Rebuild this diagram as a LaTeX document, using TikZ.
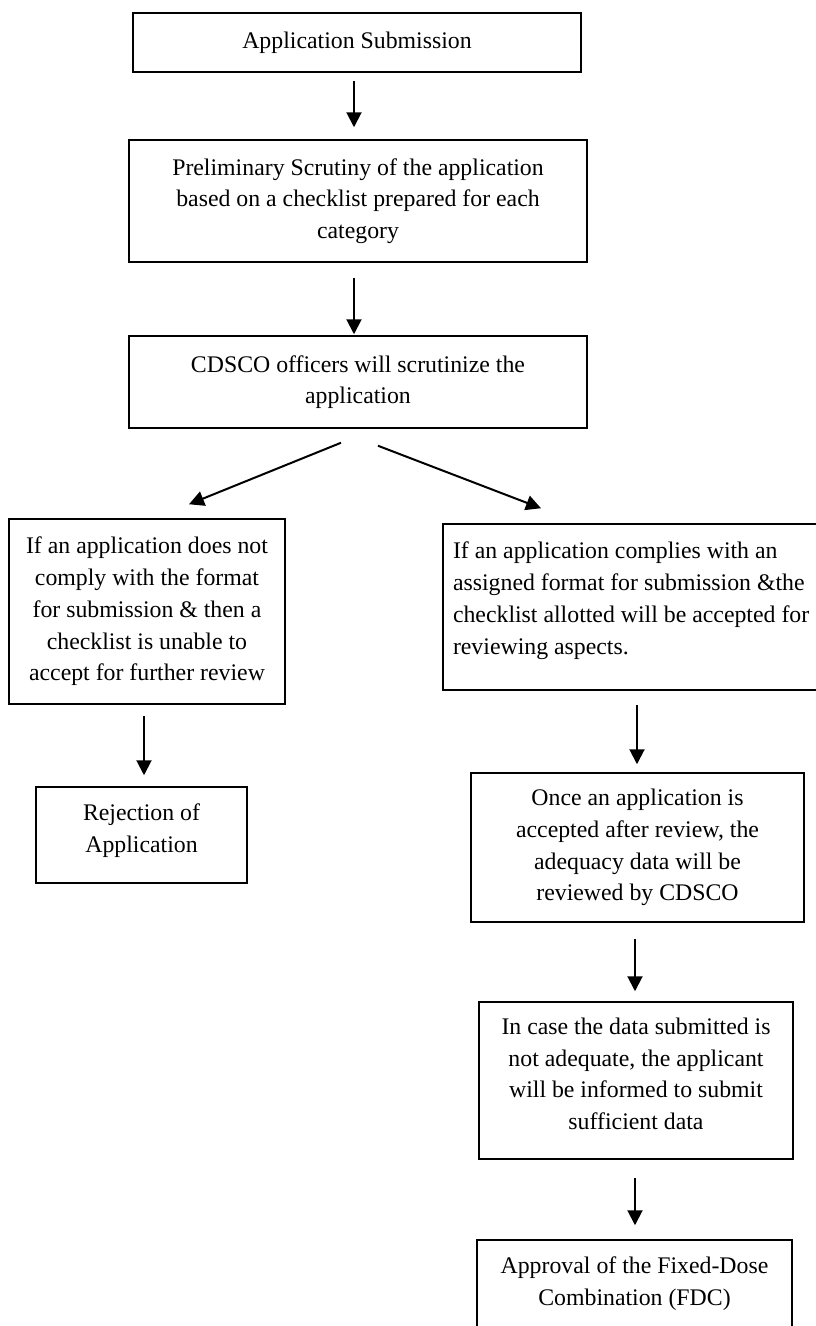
\documentclass[tikz,border=0pt]{standalone}
\usepackage{fontspec}
\setmainfont{Liberation Serif}
\usetikzlibrary{arrows.meta}
\tikzset{
  flowbox/.style={draw=black, line width=1.5pt, fill=none, align=center, inner sep=0pt,
    font=\fontsize{23.8}{31.7}\selectfont},
  arr/.style={line width=2pt, -{Triangle[width=15pt,length=15pt]}}
}
\begin{document}
\begin{tikzpicture}[x=1pt,y=-1pt]
\useasboundingbox (0,0) rectangle (816,1326);
\clip (0,0) rectangle (816,1326);
\fill[white] (0,0) rectangle (816,1326);

\node[flowbox, minimum width=448pt, minimum height=59pt] (b1) at (357,42.5) {Application Submission};
\node[flowbox, minimum width=458pt, minimum height=122pt] (b2) at (358,201)
  {Preliminary Scrutiny of the application\\based on a checklist prepared for each\\category};
\node[flowbox, minimum width=458pt, minimum height=92pt] (b3) at (358,382)
  {CDSCO officers will scrutinize the\\application};
\node[flowbox, minimum width=276pt, minimum height=185pt] (b4) at (147,611.5)
  {If an application does not\\comply with the format\\for submission \& then a\\checklist is unable to\\accept for further review};
\node[flowbox, align=flush left, text width=367pt, inner xsep=10pt, minimum height=166pt] (b5) at (636.5,607)
  {If an application complies with an\\assigned format for submission \&the\\checklist allotted will be accepted for\\reviewing aspects.\\[-14pt]\mbox{}};
\node[flowbox, minimum width=211pt, minimum height=96pt] (b6) at (141.5,835)
  {Rejection of\\Application\\[-18pt]\mbox{}};
\node[flowbox, minimum width=333pt, minimum height=149pt] (b7) at (637.5,847.5)
  {Once an application is\\accepted after review, the\\adequacy data will be\\reviewed by CDSCO};
\node[flowbox, minimum width=314pt, minimum height=157pt] (b8) at (636,1080.5)
  {In case the data submitted is\\not adequate, the applicant\\will be informed to submit\\sufficient data\\[-18pt]\mbox{}};
\node[flowbox, minimum width=315pt, minimum height=100pt] (b9) at (634.5,1290)
  {Approval of the Fixed-Dose\\Combination (FDC)\\[-14pt]\mbox{}};

\draw[arr, shorten <=8pt, shorten >=12pt] ([xshift=-3pt]b1.south) -- ([xshift=-3pt]b1.south |- b2.north);
\draw[arr, shorten <=15pt, shorten >=1pt] ([xshift=-4pt]b2.south) -- ([xshift=-4pt]b2.south |- b3.north);
\draw[arr] ([xshift=-17pt,yshift=-14pt]b3.south) -- ([xshift=42pt,yshift=14pt]b4.north);
\draw[arr] ([xshift=20pt,yshift=-17pt]b3.south) -- ([xshift=-95.5pt,yshift=15pt]b5.north);
\draw[arr, shorten <=11pt, shorten >=11pt] ([xshift=-3pt]b4.south) -- ([xshift=-3pt]b4.south |- b6.north);
\draw[arr, shorten <=14pt, shorten >=8pt] ([xshift=0.5pt]b5.south) -- ([xshift=0.5pt]b5.south |- b7.north);
\draw[arr, shorten <=16pt, shorten >=10pt] ([xshift=-2.5pt]b7.south) -- ([xshift=-2.5pt]b7.south |- b8.north);
\draw[arr, shorten <=18pt, shorten >=14pt] ([xshift=-1pt]b8.south) -- ([xshift=-1pt]b8.south |- b9.north);
\end{tikzpicture}
\end{document}
